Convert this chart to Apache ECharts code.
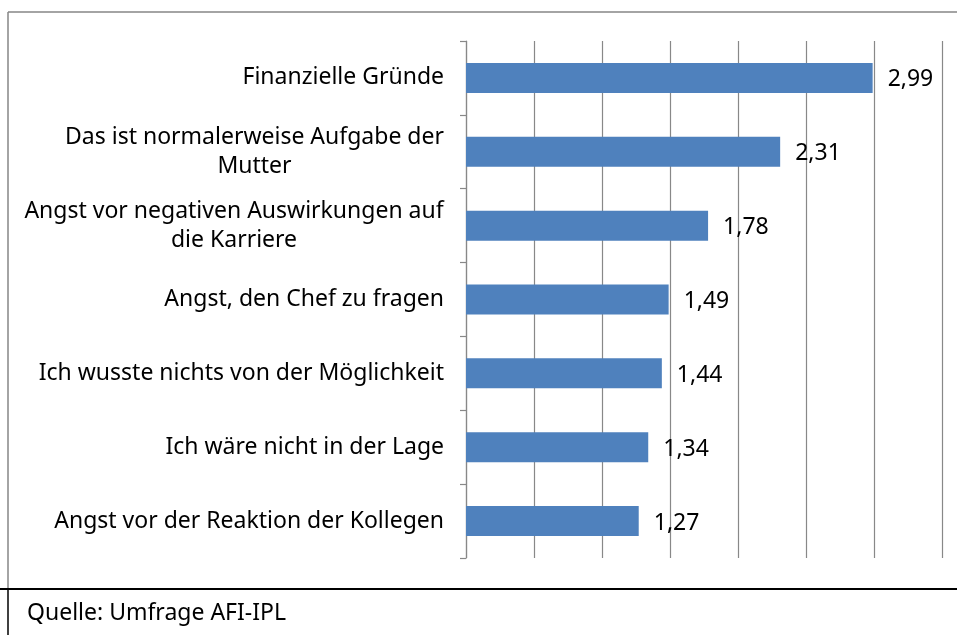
<!DOCTYPE html>
<html>
<head>
<meta charset="utf-8">
<script src="https://cdn.jsdelivr.net/npm/echarts@6/dist/echarts.min.js"></script>
<style>
  html, body { margin: 0; padding: 0; background: #fff; }
  #main { width: 957px; height: 635px; }
</style>
</head>
<body>
<div id="main"></div>
<script>
// Daten (von oben nach unten)
var categories = [
  'Finanzielle Gründe',
  'Das ist normalerweise Aufgabe der\nMutter',
  'Angst vor negativen Auswirkungen auf\ndie Karriere',
  'Angst, den Chef zu fragen',
  'Ich wusste nichts von der Möglichkeit',
  'Ich wäre nicht in der Lage',
  'Angst vor der Reaktion der Kollegen'
];
var values = [2.99, 2.31, 1.78, 1.49, 1.44, 1.34, 1.27];
var sourceText = 'Quelle: Umfrage AFI-IPL';

var FONT = '"Noto Sans", "Liberation Sans", sans-serif';
var FS = 23;
var GRID_COLOR = '#888888';

var myChart = echarts.init(document.getElementById('main'));

// mehrzeilige Beschriftungen zentriert
var ctx = document.createElement('canvas').getContext('2d');
ctx.font = FS + 'px ' + FONT;
var rich = {};
categories.forEach(function (c, i) {
  var lines = c.split('\n');
  var w = 0;
  lines.forEach(function (l) { w = Math.max(w, ctx.measureText(l).width); });
  rich['c' + i] = { width: Math.ceil(w), align: 'center', fontSize: FS, fontFamily: FONT, color: '#000', lineHeight: 29 };
});

var option = {
  animation: false,
  backgroundColor: '#fff',
  grid: { left: 466, right: 15, top: 41, bottom: 77 },
  xAxis: {
    type: 'value',
    min: 0,
    max: 3.5,
    interval: 0.5,
    axisLabel: { show: false },
    axisLine: { show: false },
    axisTick: { show: false },
    splitLine: { show: true, lineStyle: { color: GRID_COLOR, width: 1.2 } }
  },
  yAxis: {
    type: 'category',
    inverse: true,
    data: categories,
    axisLine: { show: true, lineStyle: { color: GRID_COLOR, width: 1.2 } },
    axisTick: { show: true, length: 6, lineStyle: { color: GRID_COLOR, width: 1.2 } },
    axisLabel: {
      margin: 22,
      color: '#000',
      fontSize: FS,
      fontFamily: FONT,
      lineHeight: 29,
      formatter: function (value) {
        if (value.indexOf('\n') < 0) return value;
        var i = categories.indexOf(value);
        return value.split('\n').map(function (l) { return '{c' + i + '|' + l + '}'; }).join('\n');
      },
      rich: rich
    }
  },
  series: [{
    type: 'bar',
    data: values,
    barWidth: 30,
    itemStyle: { color: '#4F81BD' },
    label: {
      show: true,
      position: 'right',
      distance: 15,
      offset: [0, 2],
      color: '#000',
      fontSize: FS,
      fontFamily: FONT,
      formatter: function (p) { return p.value.toFixed(2).replace('.', ','); }
    }
  }],
  graphic: [
    { type: 'line', shape: { x1: 8, y1: 12, x2: 957, y2: 12 }, style: { stroke: '#868686', lineWidth: 1.5 } },
    { type: 'line', shape: { x1: 8, y1: 12, x2: 8, y2: 589 }, style: { stroke: '#868686', lineWidth: 1.5 } },
    { type: 'line', shape: { x1: 0, y1: 589, x2: 957, y2: 589 }, style: { stroke: '#000', lineWidth: 2 } },
    { type: 'line', shape: { x1: 8, y1: 589, x2: 8, y2: 635 }, style: { stroke: '#000', lineWidth: 1.5 } },
    {
      type: 'text', left: 27, top: 602,
      style: { text: sourceText, fontSize: FS, fontFamily: FONT, fill: '#000' }
    }
  ]
};

myChart.setOption(option);
</script>
</body>
</html>
